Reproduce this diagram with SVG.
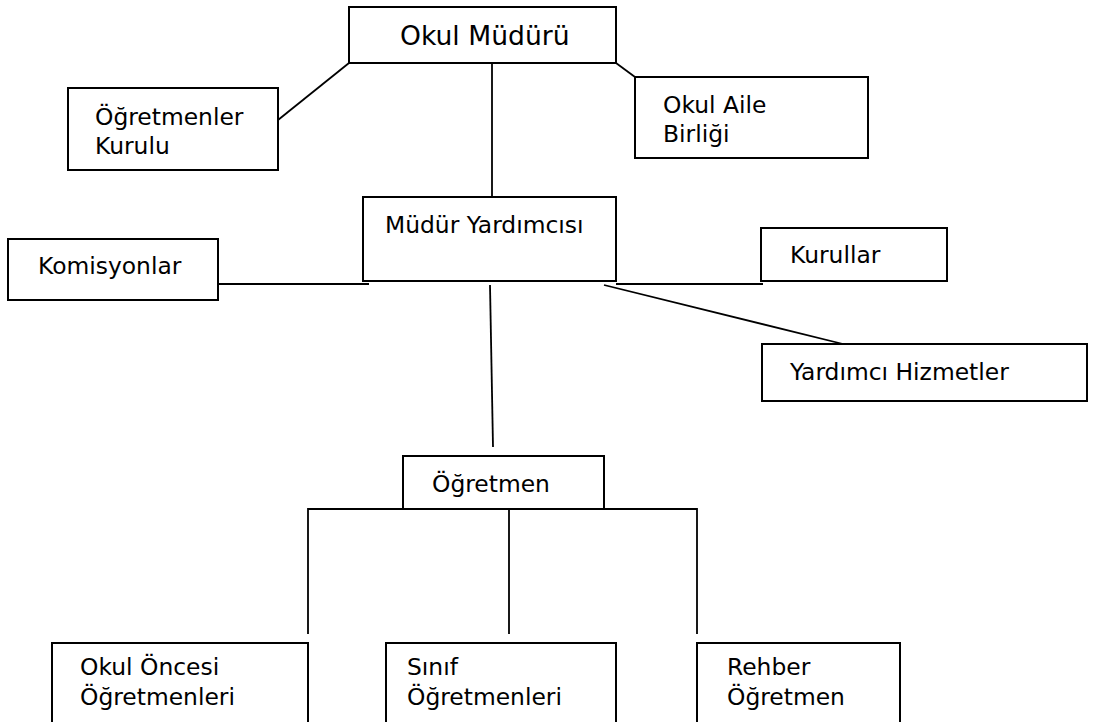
<svg xmlns="http://www.w3.org/2000/svg" width="1096" height="722" viewBox="0 0 1096 722">
<style>
.box{fill:#fff;stroke:#000;stroke-width:2}
.t{font-family:"DejaVu Sans","Liberation Sans",sans-serif;font-size:23.4px;fill:#000}
.big{font-size:26.6px}
.c{stroke:#000;stroke-width:1.8;fill:none}
</style>
<rect width="1096" height="722" fill="#fff"/>
<g id="connectors">
<line class="c" x1="349" y1="63" x2="278" y2="120"/>
<line class="c" x1="616" y1="63" x2="635" y2="77"/>
<line class="c" x1="492" y1="63" x2="492" y2="197"/>
<line class="c" x1="218" y1="284" x2="369" y2="284"/>
<line class="c" x1="616" y1="284" x2="763" y2="284"/>
<line class="c" x1="604" y1="285" x2="843" y2="344"/>
<line class="c" x1="490" y1="285" x2="493" y2="447"/>
<polyline class="c" points="403,509 308,509 308,634"/>
<polyline class="c" points="604,509 697,509 697,634"/>
<line class="c" x1="509" y1="509" x2="509" y2="634"/>
</g>
<g id="okul-muduru">
<rect class="box" x="349" y="7" width="267" height="56"/>
<text class="t big" x="400" y="45">Okul Müdürü</text>
</g>
<g id="ogretmenler-kurulu">
<rect class="box" x="68" y="88" width="210" height="82"/>
<text class="t" x="95" y="125">Öğretmenler</text>
<text class="t" x="95" y="154">Kurulu</text>
</g>
<g id="okul-aile-birligi">
<rect class="box" x="635" y="77" width="233" height="81"/>
<text class="t" x="663" y="113">Okul Aile</text>
<text class="t" x="663" y="142">Birliği</text>
</g>
<g id="mudur-yardimcisi">
<rect class="box" x="363" y="197" width="253" height="84"/>
<text class="t" x="385" y="233">Müdür Yardımcısı</text>
</g>
<g id="komisyonlar">
<rect class="box" x="8" y="239" width="210" height="61"/>
<text class="t" x="38" y="274">Komisyonlar</text>
</g>
<g id="kurullar">
<rect class="box" x="761" y="228" width="186" height="53"/>
<text class="t" x="790" y="263">Kurullar</text>
</g>
<g id="yardimci-hizmetler">
<rect class="box" x="762" y="344" width="325" height="57"/>
<text class="t" x="790" y="380">Yardımcı Hizmetler</text>
</g>
<g id="ogretmen">
<rect class="box" x="403" y="456" width="201" height="53"/>
<text class="t" x="432" y="492">Öğretmen</text>
</g>
<g id="okul-oncesi">
<rect class="box" x="52" y="643" width="256" height="90"/>
<text class="t" x="80" y="675">Okul Öncesi</text>
<text class="t" x="80" y="705">Öğretmenleri</text>
</g>
<g id="sinif">
<rect class="box" x="386" y="643" width="230" height="90"/>
<text class="t" x="407" y="675">Sınıf</text>
<text class="t" x="407" y="705">Öğretmenleri</text>
</g>
<g id="rehber">
<rect class="box" x="697" y="643" width="203" height="90"/>
<text class="t" x="727" y="675">Rehber</text>
<text class="t" x="727" y="705">Öğretmen</text>
</g>
</svg>
